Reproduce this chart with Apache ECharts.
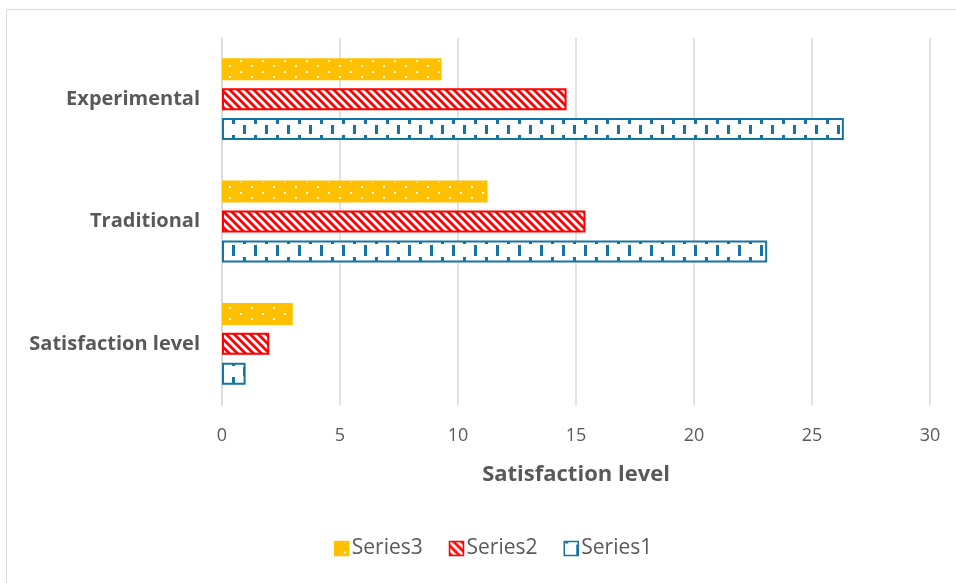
<!DOCTYPE html>
<html>
<head>
<meta charset="utf-8">
<script src="https://cdn.jsdelivr.net/npm/echarts@6/dist/echarts.min.js"></script>
<style>
  html, body { margin: 0; padding: 0; background: #ffffff; }
  #chart { width: 956px; height: 583px; }
</style>
</head>
<body>
<div id="chart"></div>
<script>
// Categories (bottom to top on the vertical axis)
const categories = ['Satisfaction level', 'Traditional', 'Experimental'];

// Series values
const series1Values = [1, 23.1, 26.35];
const series2Values = [2, 15.4, 14.6];
const series3Values = [3, 11.25, 9.3];

// Value axis ticks
const xMin = 0;
const xMax = 30;
const xStep = 5;

const legendOrder = ['Series3', 'Series2', 'Series1'];

const BLUE = '#1474a3';
const RED = '#ff0000';
const YELLOW = '#ffc000';
const TEXT = '#595959';
const FONT = "'Open Sans', 'Liberation Sans', sans-serif";

// Fill patterns drawn on small canvases
function makeTile(w, h, draw) {
  const c = document.createElement('canvas');
  c.width = w; c.height = h;
  const ctx = c.getContext('2d');
  // draws a rectangle, wrapping it around the tile edges so the tile repeats seamlessly
  const wrapRect = (x, y, rw, rh) => {
    for (const dx of [0, -w]) {
      for (const dy of [0, -h]) {
        ctx.fillRect(x + dx, y + dy, rw, rh);
      }
    }
  };
  draw(ctx, w, h, wrapRect);
  return { image: c, repeat: 'repeat' };
}

// white background with staggered vertical dashes
const dashPattern = makeTile(22, 22, (ctx, w, h, wrapRect) => {
  ctx.fillStyle = '#ffffff';
  ctx.fillRect(0, 0, w, h);
  ctx.fillStyle = BLUE;
  wrapRect(12, 3, 3, 11);
  wrapRect(1, 15, 3, 9);
});

// red with white downward diagonal stripes
const stripePattern = makeTile(8, 8, (ctx, w, h) => {
  ctx.fillStyle = RED;
  ctx.fillRect(0, 0, w, h);
  ctx.strokeStyle = '#ffffff';
  ctx.lineWidth = 2.8;
  for (let k = -1; k <= 1; k++) {
    ctx.beginPath();
    ctx.moveTo(k * w - 1, -1);
    ctx.lineTo(k * w + w + 1, h + 1);
    ctx.stroke();
  }
});

// yellow with small white dots
const dotPattern = makeTile(22, 11, (ctx, w, h, wrapRect) => {
  ctx.fillStyle = YELLOW;
  ctx.fillRect(0, 0, w, h);
  ctx.fillStyle = '#ffffff';
  wrapRect(20, 5, 2, 2);
  wrapRect(9, 10, 2, 2);
});

const chart = echarts.init(document.getElementById('chart'), null, { renderer: 'canvas' });

const barCommon = {
  type: 'bar',
  barWidth: 22,
  barGap: '36%'
};

chart.setOption({
  animation: false,
  backgroundColor: '#ffffff',
  graphic: [{
    type: 'rect',
    shape: { x: 6.5, y: 9.5, width: 980, height: 600 },
    style: { fill: 'none', stroke: '#d9d9d9', lineWidth: 1 },
    silent: true
  }],
  grid: { left: 222, right: 26, top: 38, bottom: 178, containLabel: false },
  legend: {
    data: legendOrder,
    left: 329,
    top: 533,
    icon: 'rect',
    itemWidth: 14,
    itemHeight: 14,
    itemGap: 26,
    itemStyle: { borderWidth: 1.5 },
    textStyle: { color: TEXT, fontSize: 21, fontFamily: FONT, padding: [0, 0, 0, -2] }
  },
  xAxis: {
    type: 'value',
    min: xMin,
    max: xMax,
    interval: xStep,
    name: 'Satisfaction level',
    nameLocation: 'middle',
    nameGap: 59,
    nameTextStyle: { color: TEXT, fontSize: 22, fontWeight: 'bold', fontFamily: FONT },
    axisLine: { show: false },
    axisTick: { show: false },
    axisLabel: { color: TEXT, fontSize: 18, margin: 22, fontFamily: FONT },
    splitLine: { show: true, lineStyle: { color: '#d9d9d9', width: 1.5 } }
  },
  yAxis: {
    type: 'category',
    data: categories,
    axisLine: { show: true, lineStyle: { color: '#d9d9d9', width: 1.5 } },
    axisTick: { show: false },
    axisLabel: { color: TEXT, fontSize: 20, fontWeight: 'bold', margin: 22, fontFamily: FONT }
  },
  // listed top-to-bottom within each category band
  series: [
    Object.assign({}, barCommon, {
      name: 'Series3',
      data: series3Values,
      itemStyle: { color: dotPattern, borderColor: YELLOW, borderWidth: 2 }
    }),
    Object.assign({}, barCommon, {
      name: 'Series2',
      data: series2Values,
      itemStyle: { color: stripePattern, borderColor: RED, borderWidth: 2 }
    }),
    Object.assign({}, barCommon, {
      name: 'Series1',
      data: series1Values,
      itemStyle: { color: dashPattern, borderColor: BLUE, borderWidth: 2 }
    })
  ]
});
</script>
</body>
</html>
